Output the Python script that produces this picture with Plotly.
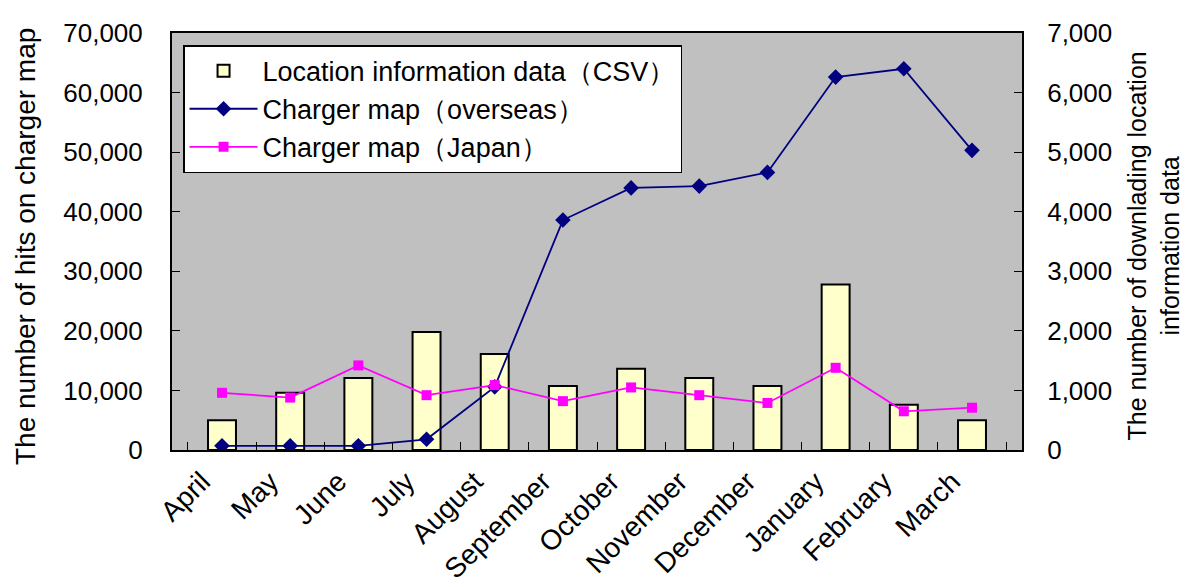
import plotly.graph_objects as go

months = ["April", "May", "June", "July", "August", "September", "October",
          "November", "December", "January", "February", "March"]
csv_downloads = [500, 960, 1210, 1980, 1610, 1075, 1365, 1210, 1075, 2780, 760, 500]
overseas_hits = [700, 700, 700, 1800, 10600, 38600, 44000, 44300, 46600, 62600, 64000, 50300]
japan_hits = [9600, 8800, 14200, 9200, 10900, 8200, 10500, 9200, 7900, 13800, 6500, 7100]

left_ticks = [0, 10000, 20000, 30000, 40000, 50000, 60000, 70000]
right_ticks = [0, 1000, 2000, 3000, 4000, 5000, 6000, 7000]

FONT = "Liberation Sans, Arial, sans-serif"
FS = 26

fig = go.Figure()
fig.add_trace(go.Bar(
    x=months, y=csv_downloads, name="Location information data（CSV）",
    marker=dict(color="#FFFFCC", line=dict(color="black", width=2)),
    width=0.41, yaxis="y"))
fig.add_trace(go.Scatter(
    x=months, y=overseas_hits, name="Charger map（overseas）",
    mode="lines+markers", line=dict(color="#000080", width=1.8),
    marker=dict(symbol="diamond", size=12, color="#000080"), yaxis="y2"))
fig.add_trace(go.Scatter(
    x=months, y=japan_hits, name="Charger map（Japan）",
    mode="lines+markers", line=dict(color="#FF00FF", width=1.8),
    marker=dict(symbol="square", size=10, color="#FF00FF"), yaxis="y2"))

fig.update_layout(
    width=1181, height=579,
    margin=dict(l=164, r=167, t=25, b=137, autoexpand=False),
    paper_bgcolor="white", plot_bgcolor="#C0C0C0",
    font=dict(family=FONT, size=FS, color="black"),
    showlegend=True,
    legend=dict(x=0.013, y=0.971, xanchor="left", yanchor="top",
                bgcolor="white", bordercolor="black", borderwidth=1.5,
                font=dict(size=27), tracegroupgap=0, itemwidth=68),
    xaxis=dict(type="category", tickangle=-45, tickfont=dict(size=28),
               showline=True, linecolor="black", linewidth=2, mirror=True,
               ticks="inside", tickson="boundaries", ticklen=8, tickcolor="black",
               showgrid=False, automargin=False, ticklabelstandoff=2,
               ticklabelshift=-20),
    yaxis=dict(side="right", range=[0, 7000], tickvals=right_ticks, tickformat=",d",
               ticks="inside", ticklen=8, tickcolor="black",
               showline=True, linecolor="black", linewidth=2,
               showgrid=False, zeroline=False, tickfont=dict(size=FS),
               automargin=False, ticklabelstandoff=18),
    yaxis2=dict(side="left", overlaying="y", range=[0, 70000], tickvals=left_ticks,
                tickformat=",d",
                ticks="inside", ticklen=8, tickcolor="black",
                showline=True, linecolor="black", linewidth=2,
                showgrid=False, zeroline=False, tickfont=dict(size=FS),
                automargin=False, ticklabelstandoff=22),
    annotations=[
        dict(text="The number of hits on charger map", textangle=-90,
             xref="paper", yref="paper", x=-0.173, y=0.489,
             xanchor="center", yanchor="middle", showarrow=False,
             font=dict(size=28)),
        dict(text="The number of downlading location<br>information data", textangle=-90,
             xref="paper", yref="paper", x=1.155, y=0.49,
             xanchor="center", yanchor="middle", showarrow=False, align="center",
             font=dict(size=25)),
    ],
)

fig.write_html("out.html")
